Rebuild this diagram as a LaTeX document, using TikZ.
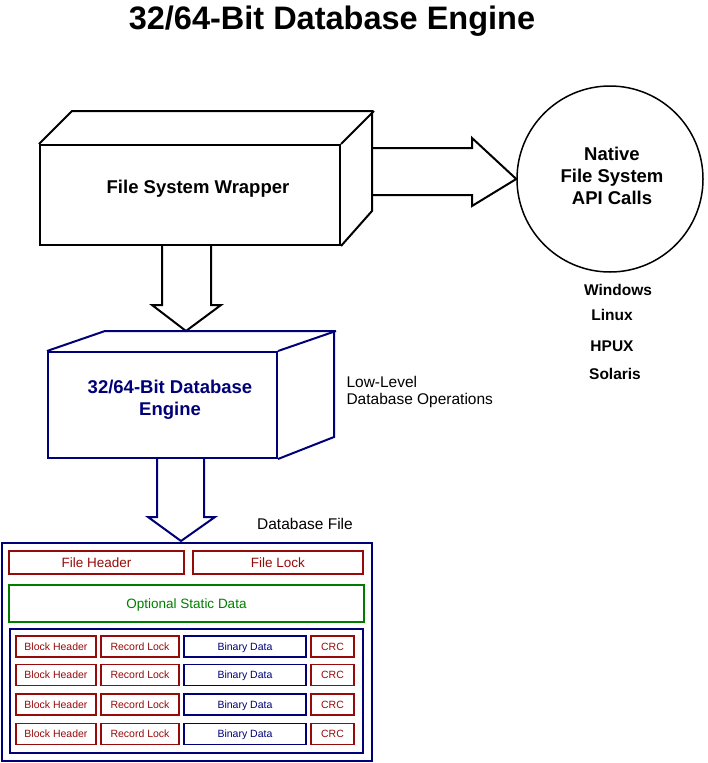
\documentclass[tikz,border=0pt]{standalone}
\usepackage{fontspec}
\setmainfont{Liberation Sans}
\definecolor{dbred}{RGB}{150,10,10}
\definecolor{dbnavy}{RGB}{0,0,120}
\definecolor{dbgreen}{RGB}{0,125,0}
\begin{document}
\begin{tikzpicture}[x=1pt,y=-1pt,
  fs/.style={font=\fontsize{#1}{\dimexpr#1pt*6/5\relax}\selectfont},
  fsb/.style={font=\fontsize{#1}{\dimexpr#1pt*6/5\relax}\selectfont\bfseries},
  boxface/.style={draw, line width=2pt, inner sep=0pt, line join=miter},
  cell/.style={draw, line width=1.8pt, inner sep=0pt, minimum height=21pt, fs=10.5, text height=7.5pt, text depth=0pt},
  bigcell/.style={cell, fs=13.5, text height=9.7pt},
  blockarrow/.style={draw, line width=2pt, line join=miter}
]
\useasboundingbox (0,0) rectangle (708,763);

% title
\node[fsb=32.5] (title) at (332,21) {32/64-Bit Database Engine};

% File System Wrapper box
\node[boxface, minimum width=300pt, minimum height=100pt] (fsw) at (190,195) {};
\node[fsb=18.5] (fswtext) at (198,189) {File System Wrapper};
\draw[line width=2pt, line join=miter] (fsw.north west) -- ++(33,-33) -- ++(300,0) -- ++(0,100) -- (fsw.south east);
\draw[line width=2pt] (fsw.north east) -- ++(33,-33);

% circle
\node[draw, circle, line width=1.5pt, minimum size=186pt, inner sep=0pt] (api) at (610,179) {};
\node[fsb=18.5, align=center] (apitext) at (612,176) {Native\\File System\\API Calls};
\node[fsb=15.5] (win) at (618,290) {Windows};
\node[fsb=15.5] (lin) at (612,315) {Linux};
\node[fsb=15.5] (hp) at (612,346) {HPUX};
\node[fsb=15.5] (sol) at (615,374) {Solaris};

% right block arrow
\coordinate (ra1) at (373,148);
\coordinate (ra2) at (373,195);
\draw[blockarrow] (ra1) -- (472,148) -- (472,138) -- (api.west) -- (472,206) -- (472,195) -- (ra2);

% down block arrow 1
\draw[blockarrow] (162,245) -- (162,305) -- (152,305) -- (186,331) -- (221,305) -- (211,305) -- (211,245);

% Engine box
\node[boxface, draw=dbnavy, minimum width=229pt, minimum height=106pt] (eng) at (162.5,405) {};
\node[fsb=18.5, text=dbnavy, align=center] (engtext) at (170,400) {32/64-Bit Database\\Engine};
\draw[line width=2pt, line join=miter, dbnavy] (eng.north west) -- ++(58,-20) -- ++(229,0) -- ++(0,106) -- (eng.south east);
\draw[line width=2pt, dbnavy] (eng.north east) -- ++(58,-20);

\node[fs=15.5, align=left, anchor=west] (lowlvl) at (343,392) {Low-Level\\[-2pt]Database Operations};

% down block arrow 2
\draw[blockarrow, draw=dbnavy] (157,458) -- (157,517) -- (148,517) -- (181,541) -- (215,517) -- (204,517) -- (204,458);

\node[fs=15.5] (dbfilelbl) at (305,524) {Database File};

% Database file
\draw[line width=2pt, dbnavy] (2,543) rectangle (372,761);
\node[bigcell, draw=dbred, text=dbred, minimum width=175pt, minimum height=23pt] (fh) at (96.5,562.5) {File Header};
\node[bigcell, draw=dbred, text=dbred, minimum width=170pt, minimum height=23pt] (fl) at (278,562.5) {File Lock};
\node[bigcell, draw=dbgreen, text=dbgreen, minimum width=355pt, minimum height=37pt] (osd) at (186.5,603.5) {Optional Static Data};
\draw[line width=2pt, dbnavy] (10,629) rectangle (363,753);

\foreach \y [count=\i] in {646.5,675,704.5,734}{
  \node[cell, draw=dbred, text=dbred, minimum width=80pt] (bh\i) at (56,\y) {Block Header};
  \node[cell, draw=dbred, text=dbred, minimum width=78pt] (rl\i) at (140,\y) {Record Lock};
  \node[cell, draw=dbnavy, text=dbnavy, minimum width=122pt] (bd\i) at (245,\y) {Binary Data};
  \node[cell, draw=dbred, text=dbred, minimum width=43pt] (crc\i) at (332.5,\y) {CRC};
}
\end{tikzpicture}
\end{document}
